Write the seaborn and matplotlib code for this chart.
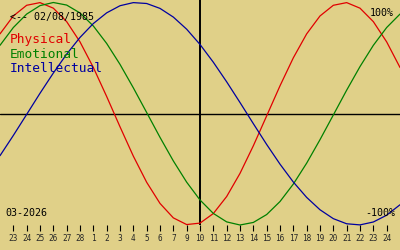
import matplotlib
matplotlib.use("Agg")
import matplotlib.pyplot as plt
import pandas as pd
import seaborn as sns

# ---- data ----
day_labels = ["23", "24", "25", "26", "27", "28", "1", "2", "3", "4", "5", "6", "7",
              "9", "10", "11", "12", "13", "14", "15", "16", "17", "18", "19", "20",
              "21", "22", "23", "24"]
day_index = list(range(31))
today_label = "10"
birth_label = "<-- 02/08/1985"
month_label = "03-2026"
series_names = ["Physical", "Emotional", "Intellectual"]

physical = [0.718, 0.879, 0.975, 0.999, 0.949, 0.828, 0.646, 0.416, 0.155, -0.117,
            -0.381, -0.616, -0.806, -0.936, -0.996, -0.983, -0.897, -0.744, -0.536,
            -0.288, -0.019, 0.251, 0.503, 0.718, 0.879, 0.975, 0.999, 0.949, 0.828,
            0.646, 0.416]
emotional = [0.615, 0.775, 0.896, 0.972, 1.000, 0.977, 0.906, 0.789, 0.632, 0.444,
             0.233, 0.011, -0.212, -0.424, -0.615, -0.775, -0.896, -0.972, -1.000,
             -0.977, -0.906, -0.789, -0.632, -0.444, -0.233, -0.011, 0.212, 0.424,
             0.615, 0.775, 0.896]
intellectual = [-0.377, -0.195, -0.006, 0.184, 0.366, 0.536, 0.686, 0.811, 0.907,
                0.971, 0.999, 0.991, 0.947, 0.869, 0.760, 0.623, 0.463, 0.287, 0.101,
                -0.089, -0.276, -0.453, -0.614, -0.752, -0.863, -0.943, -0.989, -0.999,
                -0.973, -0.912, -0.818]

colors = {"Physical": "#e00000", "Emotional": "#008000", "Intellectual": "#0000a0"}
bg = "#e0d088"

df = pd.concat([
    pd.DataFrame({"day": day_index, "value": vals, "series": name})
    for name, vals in zip(series_names, [physical, emotional, intellectual])
])

sns.set_style("white")
plt.rcParams["font.family"] = ["DejaVu Sans Mono", "DejaVu Sans"]

fig = plt.figure(figsize=(4, 2.5), dpi=100)
fig.patch.set_facecolor(bg)
ax = fig.add_axes([0, 25 / 250, 1, 225 / 250])
ax.set_facecolor(bg)

ax.axhline(0, color="black", lw=1.0, zorder=1)
ax.axvline(day_labels.index(today_label) + 1, color="black", lw=1.4, zorder=1)

sns.lineplot(data=df, x="day", y="value", hue="series", palette=colors,
             hue_order=series_names, legend=False, ax=ax, lw=0.9, sort=False,
             clip_on=False, zorder=3)

ax.set_xlim(0, 30)
ax.set_ylim(-1.0, 1.0225)
ax.set_xticks(range(1, len(day_labels) + 1))
ax.set_xticklabels(day_labels)
ax.set_yticks([])
ax.set_xlabel("")
ax.set_ylabel("")
for s in ax.spines.values():
    s.set_visible(False)
ax.tick_params(axis="x", direction="out", length=4, width=0.8, color="black",
               pad=2.2, labelsize=5.6, bottom=True)

def ftext(x, y, s, **kw):
    fig.text(x / 400, 1 - y / 250, s, **kw)

ftext(10, 20, birth_label, fontsize=7.2, color="black", va="baseline", ha="left")
for i, name in enumerate(series_names):
    ftext(10, 43 + i * 14.5, name, fontsize=9.3, color=colors[name],
          va="baseline", ha="left")
ftext(394, 16, "100%", fontsize=7.2, color="black", va="baseline", ha="right")
ftext(395, 216, "-100%", fontsize=7.2, color="black", va="baseline", ha="right")
ftext(5, 216, month_label, fontsize=7.2, color="black", va="baseline", ha="left")

fig.savefig("out.png", dpi=100, facecolor=bg)
